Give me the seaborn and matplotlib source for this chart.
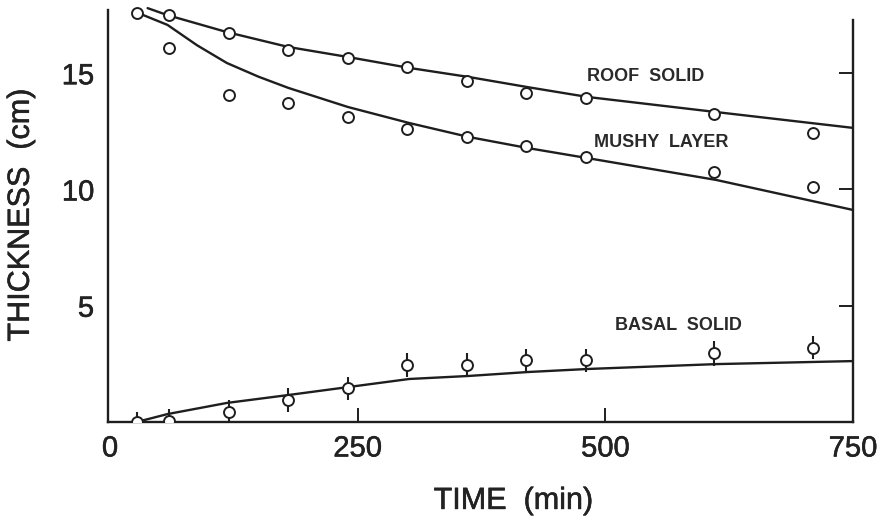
import numpy as np
import pandas as pd
import matplotlib
matplotlib.use("Agg")
import matplotlib.pyplot as plt
import matplotlib.patheffects as pe
import seaborn as sns

# --- measured thickness data (cm) against time (min) ---
roof_t = [60, 120, 180, 240, 300, 360, 420, 480, 610, 710]
roof_h = [17.5, 16.75, 16.0, 15.65, 15.25, 14.65, 14.15, 13.95, 13.25, 12.45]

mushy_t = [27, 60, 120, 180, 240, 300, 360, 420, 480, 610, 710]
mushy_h = [17.6, 16.1, 14.05, 13.7, 13.1, 12.6, 12.25, 11.85, 11.4, 10.75, 10.1]

basal_t = [27, 60, 120, 180, 240, 300, 360, 420, 480, 610, 710]
basal_h = [0.0, 0.05, 0.45, 0.95, 1.45, 2.45, 2.45, 2.65, 2.65, 2.95, 3.2]
basal_err = [0.45, 0.5, 0.5, 0.5, 0.5, 0.5, 0.5, 0.5, 0.5, 0.55, 0.5]

# --- model predictions ---
roof_model_t = [38, 58, 118, 180, 240, 302, 362, 422, 482, 612, 750]
roof_model_h = [17.8, 17.5, 16.77, 16.13, 15.7, 15.23, 14.84, 14.4, 13.98, 13.33, 12.65]

mushy_model_t = [25, 58, 88, 118, 150, 180, 240, 302, 362, 422, 482, 612, 750]
mushy_model_h = [17.65, 17.08, 16.2, 15.44, 14.85, 14.37, 13.55, 12.86, 12.26, 11.78, 11.35, 10.41, 9.12]

basal_model_t = [27, 58, 118, 180, 240, 302, 362, 422, 482, 612, 750]
basal_model_h = [0.0, 0.34, 0.82, 1.16, 1.5, 1.85, 1.98, 2.15, 2.28, 2.49, 2.62]

x_ticks = [0, 250, 500, 750]
y_ticks = [5, 10, 15]
labels = ["ROOF  SOLID", "MUSHY  LAYER", "BASAL  SOLID"]
label_pos = [(482, 14.86), (489, 12.0), (510, 4.13)]

ink = "#1e1e1e"
heavy = [pe.withStroke(linewidth=0.4, foreground="#222222")]

sns.set_theme(style="white")
plt.rcParams["font.family"] = ["Liberation Sans", "DejaVu Sans"]

fig = plt.figure(figsize=(8.83, 5.22), dpi=100)
ax = fig.add_axes([108 / 883, 1 - 422 / 522, 745 / 883, 422 / 522])

models = pd.concat([
    pd.DataFrame({"t": roof_model_t, "h": roof_model_h, "layer": "roof"}),
    pd.DataFrame({"t": mushy_model_t, "h": mushy_model_h, "layer": "mushy"}),
    pd.DataFrame({"t": basal_model_t, "h": basal_model_h, "layer": "basal"}),
])
sns.lineplot(data=models, x="t", y="h", units="layer", estimator=None,
             color=ink, lw=1.7, ax=ax, legend=False, sort=False)

obs = pd.concat([
    pd.DataFrame({"t": roof_t, "h": roof_h}),
    pd.DataFrame({"t": mushy_t, "h": mushy_h}),
    pd.DataFrame({"t": basal_t, "h": basal_h}),
])
ax.errorbar(basal_t, basal_h, yerr=basal_err, fmt="none", ecolor=ink,
            elinewidth=1.5, capsize=0, zorder=3)
sns.scatterplot(data=obs, x="t", y="h", marker="o", s=62, facecolor="white",
                edgecolor=ink, linewidth=1.4, ax=ax, zorder=4, legend=False)

for text, (tx, ty) in zip(labels, label_pos):
    ax.text(tx, ty, text, ha="left", va="center", fontsize=13,
            fontweight="bold", color="#2a2a2a")

ax.set_xlim(-2, 750)
ax.set_ylim(0, 18.15)
ax.set_xticks(x_ticks)
ax.set_xticklabels([str(v) for v in x_ticks])
ax.set_yticks(y_ticks)
ax.set_yticklabels([str(v) for v in y_ticks])

ax.tick_params(axis="both", direction="in", length=10, width=1.4,
               color=ink, labelcolor="#222222", labelsize=21)
ax.tick_params(axis="x", pad=9, top=False, bottom=True)
ax.tick_params(axis="y", pad=10, right=True, labelright=False)

# end ticks coincide with the side spines
for tk in (ax.xaxis.get_major_ticks()[0], ax.xaxis.get_major_ticks()[-1]):
    tk.tick1line.set_visible(False)

for lbl in ax.get_xticklabels() + ax.get_yticklabels():
    lbl.set_path_effects(heavy)

for side in ["left", "right", "bottom"]:
    ax.spines[side].set_color(ink)
    ax.spines[side].set_linewidth(1.7)
ax.spines["top"].set_visible(False)
ax.spines["left"].set_bounds(0, 17.7)
ax.spines["right"].set_bounds(0, 17.3)

ax.set_xlabel("TIME  (min)", fontsize=22, color="#222222", va="center",
              path_effects=heavy)
ax.set_ylabel("THICKNESS  (cm)", fontsize=22, color="#222222", va="center",
              path_effects=heavy)
ax.xaxis.set_label_coords(0.544, -0.187)
ax.yaxis.set_label_coords(-0.117, 0.49)

fig.savefig("out.png", dpi=100, facecolor="white")
